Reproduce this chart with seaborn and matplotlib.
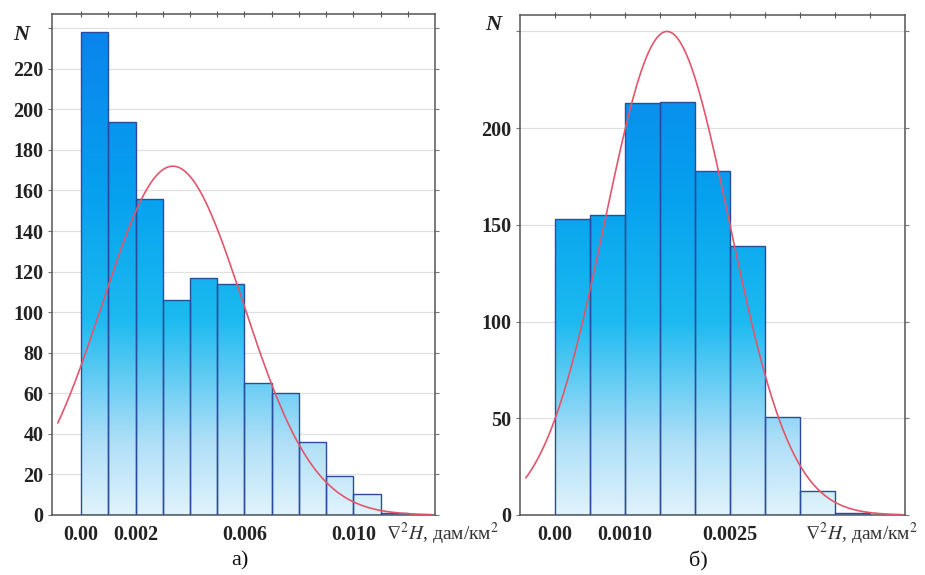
import numpy as np
import pandas as pd
import matplotlib
matplotlib.use("Agg")
import matplotlib.pyplot as plt
from matplotlib.colors import LinearSegmentedColormap
import seaborn as sns

# ---------------- data ----------------
# panel a)
edges_a = [0.000, 0.001, 0.002, 0.003, 0.004, 0.005, 0.006, 0.007, 0.008, 0.009, 0.010, 0.011, 0.012]
counts_a = [238, 194, 156, 106, 117, 114, 65, 60, 36, 19, 10.5, 1]
fit_mean_a = 0.00337
fit_std_a = 0.00259
xtick_pos_a = [0.0, 0.002, 0.006, 0.010]
xtick_lab_a = ["0.00", "0.002", "0.006", "0.010"]
ytick_pos_a = [0, 20, 40, 60, 80, 100, 120, 140, 160, 180, 200, 220, 240]
ytick_lab_a = ["0", "20", "40", "60", "80", "100", "120", "140", "160", "180", "200", "220", ""]

# panel б)
edges_b = [0.0000, 0.0005, 0.0010, 0.0015, 0.0020, 0.0025, 0.0030, 0.0035, 0.0040, 0.0045]
counts_b = [153, 155, 213, 213.5, 178, 139, 50.7, 12.2, 1]
fit_mean_b = 0.00160
fit_std_b = 0.00089
xtick_pos_b = [0.0, 0.0010, 0.0025]
xtick_lab_b = ["0.00", "0.0010", "0.0025"]
ytick_pos_b = [0, 50, 100, 150, 200, 250]
ytick_lab_b = ["0", "50", "100", "150", "200", ""]

xlabel_text = r"$\nabla^2 H$, дам/км$^2$"
panel_labels = ["а)", "б)"]

# ---------------- style ----------------
sns.set_theme(style="white")
plt.rcParams["font.family"] = ["Liberation Serif", "DejaVu Serif"]
plt.rcParams["mathtext.fontset"] = "stix"

grad_cmap = LinearSegmentedColormap.from_list(
    "bluegrad",
    [(0.0, "#e0f3fc"), (0.15, "#aedff7"), (0.40, "#1cbaf0"),
     (0.65, "#06a2ef"), (1.0, "#0a84ec")])

fig = plt.figure(figsize=(9.25, 5.75), dpi=100)
ax_a = fig.add_axes([52 / 925, 1 - 515 / 575, 383 / 925, 501 / 575])
ax_b = fig.add_axes([520 / 925, 1 - 515 / 575, 385 / 925, 500 / 575])


def draw_panel(ax, edges, counts, mean, std, xlim, ylim, xtp, xtl, ytp, ytl, gtop):
    edges_arr = np.asarray(edges, dtype=float)
    counts_arr = np.asarray(counts, dtype=float)
    centers = (edges_arr[:-1] + edges_arr[1:]) / 2
    df = pd.DataFrame({"x": centers, "w": counts_arr})
    sns.histplot(data=df, x="x", weights="w", bins=list(edges), ax=ax,
                 stat="count", fill=True, edgecolor="#2b4c9c",
                 linewidth=1.0, legend=False)
    ax.set_xlim(*xlim)
    ax.set_ylim(*ylim)
    grad = np.linspace(0, 1, 256).reshape(-1, 1)
    for p in list(ax.patches):
        p.set_facecolor("none")
        p.set_zorder(3)
        im = ax.imshow(grad, extent=[xlim[0], xlim[1], 0, gtop],
                       origin="lower", aspect="auto", cmap=grad_cmap,
                       vmin=0, vmax=1, zorder=2)
        im.set_clip_path(p)
    ax.set_xlim(*xlim)
    ax.set_ylim(*ylim)
    # fitted normal curve
    binw = edges_arr[1] - edges_arr[0]
    n_total = counts_arr.sum()
    xs = np.linspace(xlim[0] + 0.015 * (xlim[1] - xlim[0]), edges_arr[-1] + binw * 0.9, 300)
    ys = n_total * binw / (std * np.sqrt(2 * np.pi)) * np.exp(-0.5 * ((xs - mean) / std) ** 2)
    sns.lineplot(x=xs, y=ys, ax=ax, color="#e2566c", linewidth=1.2, zorder=4)

    ax.set_xticks(list(edges))
    ax.set_xticklabels([])
    ax.tick_params(axis="x", which="major", top=True, bottom=False, direction="inout",
                   length=5, width=0.8, color="#555555", labeltop=False, labelbottom=False)
    for pos, lab in zip(xtp, xtl):
        ax.text(pos, -0.040, lab, transform=ax.get_xaxis_transform(),
                ha="center", va="center", fontsize=14.5, fontweight="bold",
                color="#222222")
    ax.set_yticks(ytp)
    ax.set_yticklabels(ytl, fontsize=14.5, fontweight="bold", color="#222222")
    ax.tick_params(axis="y", left=True, right=True, direction="out", length=3,
                   width=0.8, color="#777777", pad=3)
    ax.tick_params(axis="y", which="major", right=True)
    ax.yaxis.set_tick_params(which="major", direction="out")
    ax.yaxis.grid(True, color="#e0e0e0", linewidth=0.9)
    ax.xaxis.grid(False)
    ax.set_axisbelow(True)
    for s in ax.spines.values():
        s.set_visible(True)
        s.set_color("#555555")
        s.set_linewidth(1.1)
    ax.set_xlabel("")
    ax.set_ylabel("")


draw_panel(ax_a, edges_a, counts_a, fit_mean_a, fit_std_a, (-0.00107, 0.0130), (0, 247),
           xtick_pos_a, xtick_lab_a, ytick_pos_a, ytick_lab_a, 240)
draw_panel(ax_b, edges_b, counts_b, fit_mean_b, fit_std_b, (-0.0005, 0.0050), (0, 258.5),
           xtick_pos_b, xtick_lab_b, ytick_pos_b, ytick_lab_b, 250)

# axis-name labels
fig.text(21 / 925, 1 - 35 / 575, "N", fontsize=16, fontweight="bold", style="italic",
         ha="center", va="center", color="#222222")
fig.text(493 / 925, 1 - 25 / 575, "N", fontsize=16, fontweight="bold", style="italic",
         ha="center", va="center", color="#222222")
fig.text(386 / 925, 1 - 534 / 575, xlabel_text, fontsize=14, ha="left", va="center",
         color="#333333")
fig.text(805 / 925, 1 - 534 / 575, xlabel_text, fontsize=14, ha="left", va="center",
         color="#333333")
fig.text(240 / 925, 1 - 561 / 575, panel_labels[0], fontsize=16, ha="center", va="center",
         color="#111111")
fig.text(698 / 925, 1 - 561 / 575, panel_labels[1], fontsize=16, ha="center", va="center",
         color="#111111")

fig.savefig("out.png", dpi=100)
